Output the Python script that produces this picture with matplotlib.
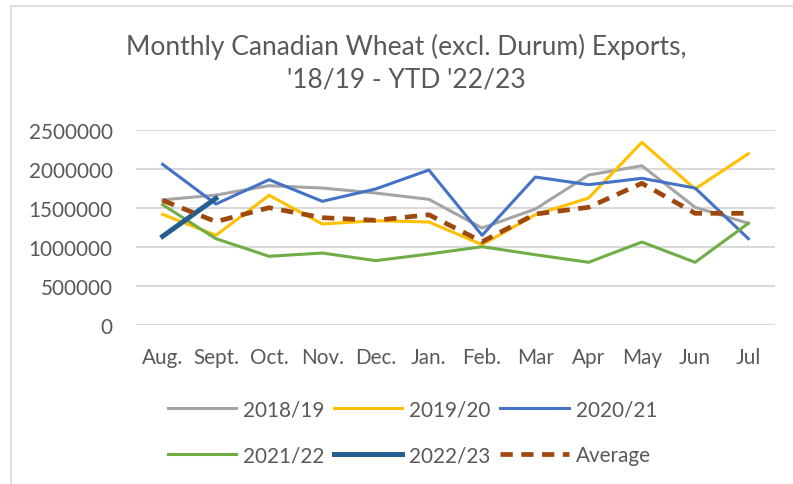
import numpy as np
import matplotlib
matplotlib.use("Agg")
import matplotlib.pyplot as plt
from matplotlib.patches import Rectangle

months = ["Aug.", "Sept.", "Oct.", "Nov.", "Dec.", "Jan.", "Feb.", "Mar", "Apr", "May", "Jun", "Jul"]

y2018 = [1600000, 1662000, 1782000, 1752000, 1688000, 1607000, 1240000, 1483000, 1919000, 2038000, 1505000, 1300000]
y2019 = [1415000, 1146000, 1659000, 1291000, 1333000, 1317000, 1026000, 1410000, 1624000, 2338000, 1740000, 2192000]
y2020 = [2056000, 1547000, 1859000, 1582000, 1740000, 1983000, 1146000, 1893000, 1795000, 1877000, 1752000, 1103000]
y2021 = [1538000, 1103000, 877000, 919000, 821000, 906000, 1000000, 897000, 800000, 1060000, 800000, 1300000]
y2022 = [1133000, 1620000]
average = [1594000, 1321000, 1500000, 1372000, 1338000, 1410000, 1064000, 1419000, 1505000, 1813000, 1428000, 1428000]

W, H = 793, 485
txt = "#595959"
plt.rcParams["font.family"] = ["Lato", "DejaVu Sans"]

fig = plt.figure(figsize=(W / 100, H / 100), dpi=100)
ax = fig.add_axes([136 / W, 1 - 325.7 / H, (775 - 136) / W, (325.7 - 130.7) / H])

# chart area border (cropped on right and bottom)
fig.patches.append(Rectangle((11 / W, -0.05), 1.2, 1 - 7 / H + 0.05, transform=fig.transFigure,
                             fill=False, edgecolor="#D9D9D9", linewidth=1.2))

x = np.arange(len(months))
ax.plot(x, y2018, color="#A5A5A5", lw=2.2, label="2018/19")
ax.plot(x, y2019, color="#FFC000", lw=2.2, label="2019/20")
ax.plot(x, y2020, color="#4472C4", lw=2.2, label="2020/21")
ax.plot(x, y2021, color="#70AD47", lw=2.2, label="2021/22")
ax.plot(x[:len(y2022)], y2022, color="#255E91", lw=3.6, label="2022/23")
ax.plot(x, average, color="#9E480E", lw=3.4, ls=(0, (2.6, 1.8)), label="Average")

ax.set_xlim(-0.5, len(months) - 0.5)
ax.set_ylim(0, 2500000)
ax.set_yticks(np.arange(0, 2500001, 500000))
ax.set_yticklabels([str(v) for v in range(0, 2500001, 500000)])
ax.set_xticks(x)
ax.set_xticklabels(months)
ax.yaxis.grid(True, color="#D9D9D9", lw=1.5)
ax.set_axisbelow(True)
for s in ax.spines.values():
    s.set_visible(False)
ax.tick_params(axis="both", length=0, labelsize=14.9, colors=txt)
ax.tick_params(axis="y", pad=16.8)
ax.tick_params(axis="x", pad=16)

fig.text(406 / W, 1 - 63 / H, "Monthly Canadian Wheat (excl. Durum) Exports,\n'18/19 - YTD '22/23",
         ha="center", va="center", fontsize=19, color=txt, linespacing=1.35)

# legend filled row by row, like the original
h, l = ax.get_legend_handles_labels()
order = [0, 3, 1, 4, 2, 5]
leg = fig.legend([h[i] for i in order], [l[i] for i in order], loc="center",
                 bbox_to_anchor=(412.5 / W, 1 - 433.5 / H), ncol=3, frameon=False,
                 fontsize=14.9, handlelength=3.3, handletextpad=0.34, columnspacing=0.46,
                 labelspacing=1.25)
for t in leg.get_texts():
    t.set_color(txt)

fig.savefig("out.png", dpi=100)
